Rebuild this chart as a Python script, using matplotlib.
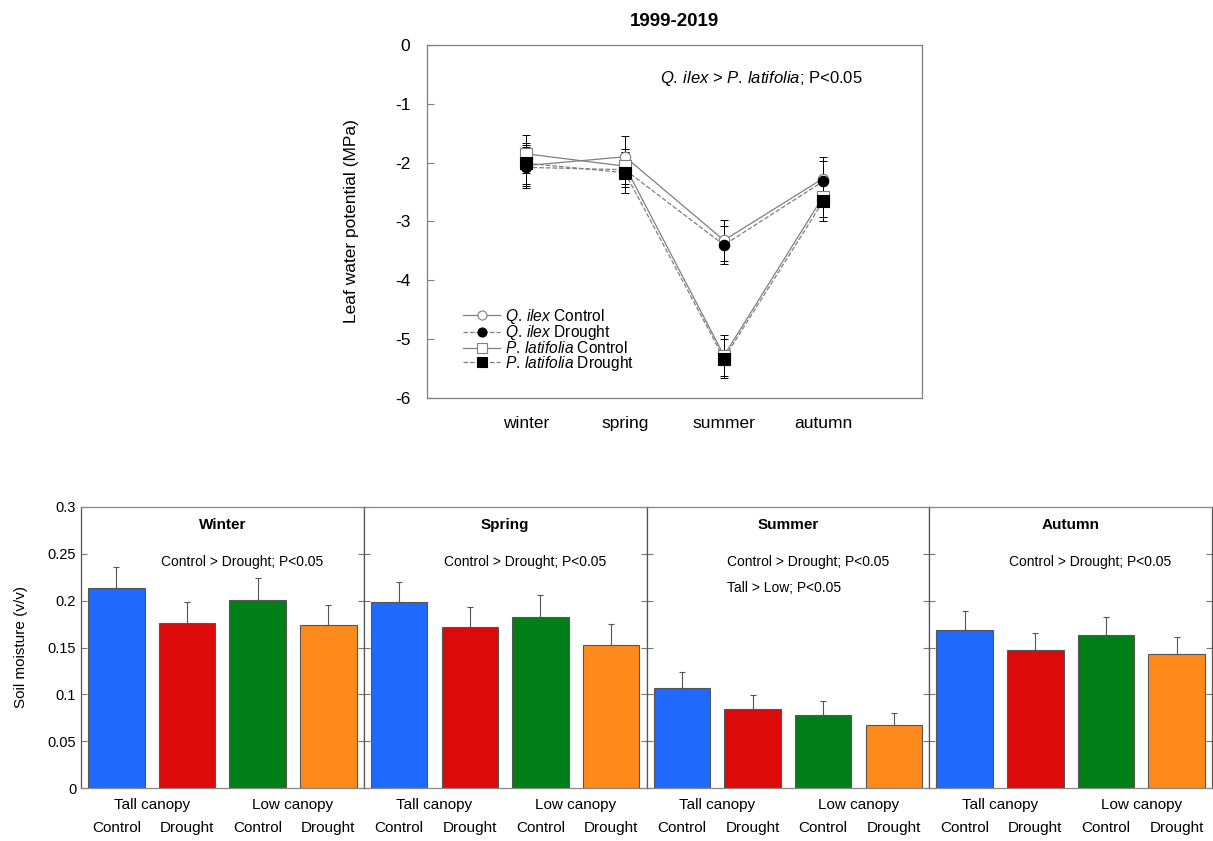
import matplotlib
matplotlib.use("Agg")
import matplotlib.pyplot as plt
from matplotlib.lines import Line2D

plt.rcParams['font.family'] = ['Liberation Sans', 'DejaVu Sans']
plt.rcParams['mathtext.fontset'] = 'custom'
plt.rcParams['mathtext.rm'] = 'Liberation Sans'
plt.rcParams['mathtext.it'] = 'Liberation Sans:italic'

# ---- Top chart data: leaf water potential (MPa) ----
seasons_lwp = ['winter', 'spring', 'summer', 'autumn']
qilex_control = [-2.05, -1.90, -3.32, -2.27]
qilex_control_err = [0.35, 0.35, 0.35, 0.37]
qilex_drought = [-2.08, -2.12, -3.40, -2.32]
qilex_drought_err = [0.35, 0.30, 0.33, 0.35]
plat_control = [-1.85, -2.06, -5.28, -2.58]
plat_control_err = [0.32, 0.30, 0.35, 0.35]
plat_drought = [-2.01, -2.17, -5.33, -2.66]
plat_drought_err = [0.35, 0.35, 0.33, 0.34]
lwp_yticks = [0, -1, -2, -3, -4, -5, -6]

# ---- Bottom chart data: soil moisture (v/v) ----
panel_titles = ['Winter', 'Spring', 'Summer', 'Autumn']
treatments = ['Control', 'Drought', 'Control', 'Drought']
canopies = ['Tall canopy', 'Low canopy']
soil_values = [
    [0.213, 0.176, 0.201, 0.174],
    [0.199, 0.172, 0.183, 0.153],
    [0.107, 0.084, 0.078, 0.067],
    [0.169, 0.147, 0.163, 0.143],
]
soil_errors = [
    [0.023, 0.023, 0.023, 0.021],
    [0.021, 0.021, 0.023, 0.022],
    [0.017, 0.015, 0.015, 0.013],
    [0.020, 0.019, 0.020, 0.018],
]
panel_notes = [
    ['Control > Drought; P<0.05'],
    ['Control > Drought; P<0.05'],
    ['Control > Drought; P<0.05', 'Tall > Low; P<0.05'],
    ['Control > Drought; P<0.05'],
]
soil_yticks = [0, 0.05, 0.1, 0.15, 0.2, 0.25, 0.3]
soil_yticklabels = ['0', '0.05', '0.1', '0.15', '0.2', '0.25', '0.3']
bar_colors = ['#1f69ff', '#dc0a0a', '#007f18', '#ff8a1c']

fig = plt.figure(figsize=(12.13, 8.41), dpi=100)

# ================= Top chart =================
ax = fig.add_axes([0.3520, 0.5268, 0.4081, 0.4197])
x = [1, 2, 3, 4]
grey = '#7f7f7f'
QI = r'$\mathit{Q.\,ilex}$'
PL = r'$\mathit{P.\,latifolia}$'
series = [
    (qilex_control, qilex_control_err, '-', 'o', 'white', grey, 7.5, QI + ' Control'),
    (qilex_drought, qilex_drought_err, '--', 'o', 'black', 'black', 7.5, QI + ' Drought'),
    (plat_control, plat_control_err, '-', 's', 'white', grey, 8, PL + ' Control'),
    (plat_drought, plat_drought_err, '--', 's', 'black', 'black', 8, PL + ' Drought'),
]
handles = []
for vals, errs, ls, mk, fc, ec, ms, lab in series:
    ax.errorbar(x, vals, yerr=errs, fmt='none', ecolor='black', elinewidth=0.7,
                capsize=3, capthick=0.7, zorder=2)
    ax.plot(x, vals, linestyle=ls, color=grey, lw=0.9, zorder=3)
    ax.plot(x, vals, linestyle='none', marker=mk, markerfacecolor=fc,
            markeredgecolor=ec, markersize=ms, markeredgewidth=0.8, zorder=4)
    handles.append(Line2D([0], [0], linestyle=ls, color=grey, lw=0.9, marker=mk,
                          markerfacecolor=fc, markeredgecolor=ec, markersize=ms - 1,
                          markeredgewidth=0.8, label=lab))

ax.set_xlim(0, 5)
ax.set_ylim(-6, 0)
ax.set_xticks(x)
ax.set_xticklabels(seasons_lwp, fontsize=12.5)
ax.tick_params(axis='x', length=0, pad=13)
ax.set_yticks(lwp_yticks)
ax.set_yticklabels([str(v) for v in lwp_yticks], fontsize=12.5)
ax.tick_params(axis='y', direction='in', length=5, color=grey, pad=12)
for s in ax.spines.values():
    s.set_color(grey)
    s.set_linewidth(0.9)
ax.set_ylabel('Leaf water potential (MPa)', fontsize=12.5, labelpad=26)
ax.set_title('1999-2019', fontsize=13.5, fontweight='bold', pad=14)
ax.text(0.47, 0.905, QI + ' > ' + PL + '; P<0.05',
        transform=ax.transAxes, fontsize=12, ha='left', va='center')
leg = ax.legend(handles=handles, loc='lower left', bbox_to_anchor=(0.06, 0.054),
                frameon=False, fontsize=11.2, labelspacing=-0.15, handlelength=2.4,
                handletextpad=0.3, borderaxespad=0)

# ================= Bottom chart =================
left0 = 81 / 1213
pw = 282.75 / 1213
bottom = 1 - 788 / 841
height = 281 / 841
bx = [1, 2, 3, 4]
for i in range(4):
    a = fig.add_axes([left0 + i * pw, bottom, pw, height])
    a.bar(bx, soil_values[i], width=0.8, color=bar_colors, edgecolor='#555555',
          linewidth=0.8, zorder=2)
    a.errorbar(bx, soil_values[i], yerr=[[0] * 4, soil_errors[i]], fmt='none',
               ecolor='#555555', elinewidth=0.8, capsize=2, capthick=0.8, zorder=3)
    a.set_xlim(0.5, 4.5)
    a.set_ylim(0, 0.3)
    a.set_yticks(soil_yticks)
    a.tick_params(axis='y', direction='in', length=4, left=True, right=True,
                  color='#777777', labelsize=10.5)
    if i == 0:
        a.set_yticklabels(soil_yticklabels)
        a.set_ylabel('Soil moisture (v/v)', fontsize=11, labelpad=14)
    else:
        a.set_yticklabels([])
    a.set_xticks(bx)
    a.set_xticklabels(treatments, fontsize=11)
    a.tick_params(axis='x', length=0, pad=24)
    for c, xc in enumerate([1.5, 3.5]):
        a.text(xc, -0.018, canopies[c], transform=a.transData, fontsize=11,
               ha='center', va='center')
    for s in a.spines.values():
        s.set_color('#888888')
        s.set_linewidth(0.9)
    a.spines['left'].set_color('#555555')
    a.spines['right'].set_color('#555555')
    a.text(0.5, 0.935, panel_titles[i], transform=a.transAxes, fontsize=11,
           fontweight='bold', ha='center', va='center')
    for k, note in enumerate(panel_notes[i]):
        a.text(0.283, 0.805 - k * 0.093, note, transform=a.transAxes, fontsize=10,
               ha='left', va='center')

fig.savefig('out.png', dpi=100)
